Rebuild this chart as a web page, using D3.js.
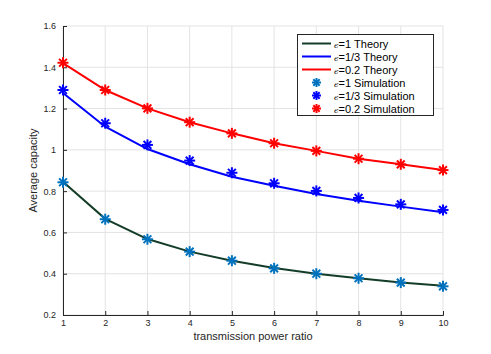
<!DOCTYPE html>
<html><head><meta charset="utf-8">
<script src="https://cdn.jsdelivr.net/npm/d3@7"></script>
<style>body{margin:0;background:#fff}svg{display:block}</style>
</head><body>
<script>
const xs = [1,2,3,4,5,6,7,8,9,10];
const theory1  = [0.845,0.666,0.568,0.507,0.463,0.428,0.400,0.378,0.358,0.342];
const theory3  = [1.275,1.112,1.004,0.930,0.870,0.826,0.786,0.754,0.725,0.698];
const theory02 = [1.420,1.290,1.201,1.134,1.080,1.032,0.995,0.957,0.930,0.902];
const sim1  = [0.843,0.664,0.567,0.507,0.463,0.426,0.400,0.378,0.357,0.339];
const sim3  = [1.290,1.129,1.024,0.948,0.889,0.838,0.801,0.767,0.736,0.709];
const sim02 = [1.422,1.290,1.201,1.134,1.080,1.032,0.995,0.957,0.930,0.902];
const yTicks = [0.2,0.4,0.6,0.8,1,1.2,1.4,1.6];
const xTicks = [1,2,3,4,5,6,7,8,9,10];
const legendLabels = ["=1 Theory","=1/3 Theory","=0.2 Theory","=1 Simulation","=1/3 Simulation","=0.2 Simulation"];

const W=491,H=354, L=63,R=443,T=26,B=315;
const svg=d3.select("body").append("svg").attr("width",W).attr("height",H);
const x=d3.scaleLinear().domain([1,10]).range([L,R]);
const y=d3.scaleLinear().domain([0.2,1.6]).range([B,T]);
const font="Liberation Sans, Arial, sans-serif";

// grid
const g=svg.append("g");
g.selectAll(".gx").data(xTicks).join("line").attr("x1",d=>x(d)).attr("x2",d=>x(d)).attr("y1",T).attr("y2",B).attr("stroke","#e3e3e3").attr("stroke-width",1);
g.selectAll(".gy").data(yTicks).join("line").attr("y1",d=>y(d)).attr("y2",d=>y(d)).attr("x1",L).attr("x2",R).attr("stroke","#e3e3e3").attr("stroke-width",1);

// axes
const ax=svg.append("g").attr("transform",`translate(0,${B})`).call(d3.axisBottom(x).tickValues(xTicks).tickSize(-4).tickPadding(5).tickFormat(d3.format("d")));
const ay=svg.append("g").attr("transform",`translate(${L},0)`).call(d3.axisLeft(y).tickValues(yTicks).tickSize(-4).tickPadding(7).tickFormat(d=>String(+d.toFixed(1))));
[ax,ay].forEach(a=>{a.selectAll("path,line").attr("stroke","#262626").attr("stroke-width",1);
  a.selectAll("text").attr("fill","#262626").style("font-family",font).style("font-size","9px");});

svg.append("text").attr("x",(L+R)/2).attr("y",340).attr("text-anchor","middle").style("font-family",font).style("font-size","11px").attr("fill","#262626").text("transmission power ratio");
svg.append("text").attr("transform",`translate(37,${(T+B)/2}) rotate(-90)`).attr("text-anchor","middle").style("font-family",font).style("font-size","11px").attr("fill","#262626").text("Average capacity");

const line=d3.line().x((d,i)=>x(xs[i])).y(d=>y(d));
const theories=[[theory1,"#133d28"],[theory3,"#0000ff"],[theory02,"#ff0000"]];
theories.forEach(([d,c])=>svg.append("path").datum(d).attr("d",line).attr("fill","none").attr("stroke",c).attr("stroke-width",2));

function star(sel,cx,cy,r,c){
  const gg=sel.append("g").attr("transform",`translate(${cx},${cy})`);
  [0,45,90,135].forEach(a=>{const rad=a*Math.PI/180;
    gg.append("line").attr("x1",-r*Math.cos(rad)).attr("y1",-r*Math.sin(rad)).attr("x2",r*Math.cos(rad)).attr("y2",r*Math.sin(rad)).attr("stroke",c).attr("stroke-width",2);});
}
const sims=[[sim1,"#0072bd"],[sim3,"#0000ff"],[sim02,"#ff0000"]];
sims.forEach(([d,c])=>d.forEach((v,i)=>star(svg,x(xs[i]),y(v),5.5,c)));

// legend
const lg=svg.append("g");
lg.append("rect").attr("x",297.5).attr("y",34.5).attr("width",136).attr("height",81).attr("fill","#fff").attr("stroke","#262626").attr("stroke-width",1);
const rowY=[43.5,56.5,69.5,82.5,95.5,108.5];
const colors=["#133d28","#0000ff","#ff0000","#0072bd","#0000ff","#ff0000"];
legendLabels.forEach((t,i)=>{
  if(i<3) lg.append("line").attr("x1",302).attr("x2",331).attr("y1",rowY[i]).attr("y2",rowY[i]).attr("stroke",colors[i]).attr("stroke-width",2);
  else star(lg,316.5,rowY[i],4.5,colors[i]);
  const tx=lg.append("text").attr("x",334).attr("y",rowY[i]+4).style("font-family",font).style("font-size","11px").attr("fill","#000");
  tx.append("tspan").style("font-family","DejaVu Serif, serif").style("font-style","italic").style("font-size","8px").text("ϵ");
  tx.append("tspan").text(t);
});
</script>
</body></html>
